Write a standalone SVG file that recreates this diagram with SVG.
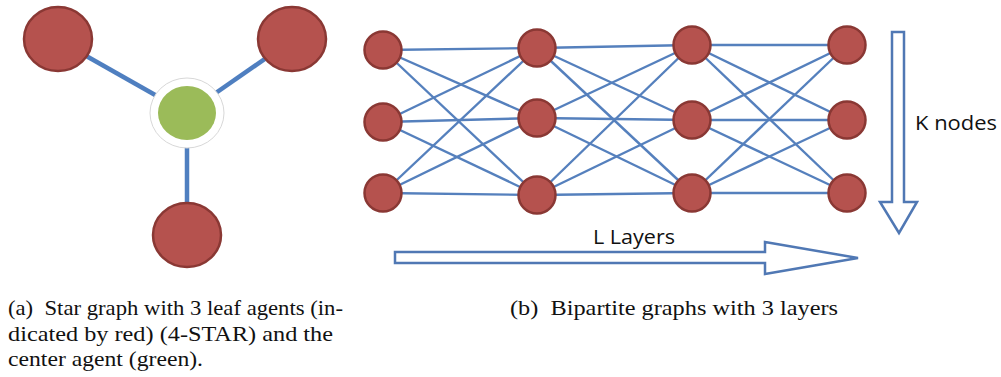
<svg xmlns="http://www.w3.org/2000/svg" width="1001" height="377" viewBox="0 0 1001 377">
<style>
.red{fill:#b5524e;stroke:#8a3834;stroke-width:2.5}
.green{fill:#9bbb59}
.ring{fill:#ffffff;stroke:#d8d8d8;stroke-width:1}
.se{stroke:#4f7fc0;stroke-width:4.5;fill:none}
.be{stroke:#5580bd;stroke-width:2.4;fill:none}
.arrow{fill:#ffffff;stroke:#5078b4;stroke-width:2.5;stroke-linejoin:miter}
.lbl{font-family:"Open Sans","Liberation Sans",sans-serif;font-size:20px;fill:#111}
.cap{font-family:"Liberation Serif","Times New Roman",serif;font-size:22px;fill:#111}
</style>
<rect width="1001" height="377" fill="#ffffff"/>
<g id="star-edges">
<line class="se" x1="58" y1="40" x2="187" y2="113"/>
<line class="se" x1="292" y1="40" x2="187" y2="113"/>
<line class="se" x1="187" y1="113" x2="187" y2="235"/>
</g>
<g id="star-leaf-1"><ellipse class="red" cx="58" cy="39" rx="34" ry="32"/></g>
<g id="star-leaf-2"><ellipse class="red" cx="292" cy="39" rx="34" ry="32"/></g>
<g id="star-leaf-3"><ellipse class="red" cx="187" cy="235" rx="34" ry="32"/></g>
<g id="star-center">
<ellipse class="ring" cx="187" cy="113" rx="37" ry="35"/>
<ellipse class="green" cx="187" cy="113" rx="29" ry="27"/>
</g>
<g id="connectors">
<line class="be" x1="383" y1="50" x2="537" y2="48"/>
<line class="be" x1="383" y1="50" x2="537" y2="118"/>
<line class="be" x1="383" y1="50" x2="537" y2="195"/>
<line class="be" x1="383" y1="122" x2="537" y2="48"/>
<line class="be" x1="383" y1="122" x2="537" y2="118"/>
<line class="be" x1="383" y1="122" x2="537" y2="195"/>
<line class="be" x1="383" y1="193" x2="537" y2="48"/>
<line class="be" x1="383" y1="193" x2="537" y2="118"/>
<line class="be" x1="383" y1="193" x2="537" y2="195"/>
<line class="be" x1="537" y1="48" x2="692" y2="45"/>
<line class="be" x1="537" y1="48" x2="692" y2="120"/>
<line class="be" x1="537" y1="48" x2="692" y2="193"/>
<line class="be" x1="537" y1="118" x2="692" y2="45"/>
<line class="be" x1="537" y1="118" x2="692" y2="120"/>
<line class="be" x1="537" y1="118" x2="692" y2="193"/>
<line class="be" x1="537" y1="195" x2="692" y2="45"/>
<line class="be" x1="537" y1="195" x2="692" y2="120"/>
<line class="be" x1="537" y1="195" x2="692" y2="193"/>
<line class="be" x1="692" y1="45" x2="847" y2="45"/>
<line class="be" x1="692" y1="45" x2="847" y2="120"/>
<line class="be" x1="692" y1="45" x2="847" y2="193"/>
<line class="be" x1="692" y1="120" x2="847" y2="45"/>
<line class="be" x1="692" y1="120" x2="847" y2="120"/>
<line class="be" x1="692" y1="120" x2="847" y2="193"/>
<line class="be" x1="692" y1="193" x2="847" y2="45"/>
<line class="be" x1="692" y1="193" x2="847" y2="120"/>
<line class="be" x1="692" y1="193" x2="847" y2="193"/>
</g>
<g id="n-1-1"><circle class="red" cx="383" cy="50" r="18.5"/></g>
<g id="n-1-2"><circle class="red" cx="383" cy="122" r="18.5"/></g>
<g id="n-1-3"><circle class="red" cx="383" cy="193" r="18.5"/></g>
<g id="n-2-1"><circle class="red" cx="537" cy="48" r="18.5"/></g>
<g id="n-2-2"><circle class="red" cx="537" cy="118" r="18.5"/></g>
<g id="n-2-3"><circle class="red" cx="537" cy="195" r="18.5"/></g>
<g id="n-3-1"><circle class="red" cx="692" cy="45" r="18.5"/></g>
<g id="n-3-2"><circle class="red" cx="692" cy="120" r="18.5"/></g>
<g id="n-3-3"><circle class="red" cx="692" cy="193" r="18.5"/></g>
<g id="n-4-1"><circle class="red" cx="847" cy="45" r="18.5"/></g>
<g id="n-4-2"><circle class="red" cx="847" cy="120" r="18.5"/></g>
<g id="n-4-3"><circle class="red" cx="847" cy="193" r="18.5"/></g>
<g id="k-arrow">
<polygon class="arrow" points="892,32 904,32 904,202 917,202 899,233 880,202 892,202"/>
<text class="lbl" x="915" y="130" textLength="82" lengthAdjust="spacingAndGlyphs">K nodes</text>
</g>
<g id="l-arrow">
<polygon class="arrow" points="395,252 765,252 765,242 858,258 765,274 765,263 395,263"/>
<text class="lbl" x="593" y="244" textLength="82" lengthAdjust="spacingAndGlyphs">L Layers</text>
</g>
<g id="captions">
<text class="cap" x="8" y="315" xml:space="preserve" textLength="335" lengthAdjust="spacingAndGlyphs">(a)  Star graph with 3 leaf agents (in-</text>
<text class="cap" x="8" y="341" textLength="325" lengthAdjust="spacingAndGlyphs">dicated by red) (4-STAR) and the</text>
<text class="cap" x="8" y="366" textLength="195" lengthAdjust="spacingAndGlyphs">center agent (green).</text>
<text class="cap" x="510" y="315" xml:space="preserve" textLength="328" lengthAdjust="spacingAndGlyphs">(b)  Bipartite graphs with 3 layers</text>
</g>
</svg>
